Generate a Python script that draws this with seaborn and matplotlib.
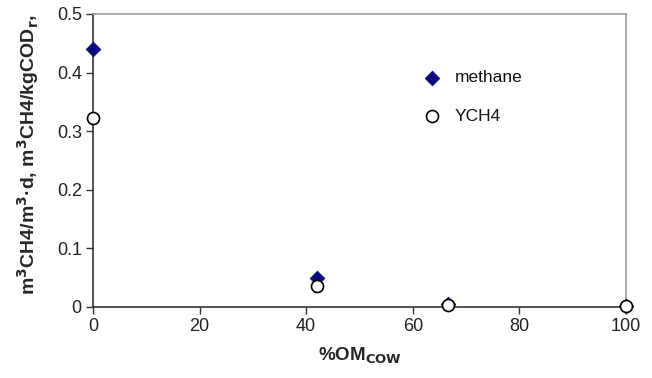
import matplotlib
matplotlib.use("Agg")
import matplotlib.pyplot as plt
import seaborn as sns
import pandas as pd

om_cow = [0, 42, 66.7, 100]
methane = [0.44, 0.05, 0.005, 0.002]
ych4 = [0.322, 0.036, 0.004, 0.001]
x_ticks = [0, 20, 40, 60, 80, 100]
y_ticks = [0, 0.1, 0.2, 0.3, 0.4, 0.5]
y_tick_labels = ["0", "0.1", "0.2", "0.3", "0.4", "0.5"]

sns.set_theme(style="white")
plt.rcParams['font.family'] = ['Liberation Sans', 'DejaVu Sans']

df = pd.DataFrame({
    "x": om_cow * 2,
    "y": methane + ych4,
    "series": ["methane"] * len(om_cow) + ["YCH4"] * len(om_cow),
})

fig = plt.figure(figsize=(6.52, 3.78), dpi=100)
ax = fig.add_axes([0.1426, 0.188, 0.8175, 0.775])

sns.scatterplot(data=df[df.series == "methane"], x="x", y="y", ax=ax,
                marker="D", s=55, color="#0a0a80", edgecolor="#0a0a80",
                label="methane", zorder=3, clip_on=False)
sns.scatterplot(data=df[df.series == "YCH4"], x="x", y="y", ax=ax,
                marker="o", s=75, facecolor="white", edgecolor="black",
                linewidth=1.2, label="YCH4", zorder=4, clip_on=False)

ax.set_xlim(0, 100)
ax.set_ylim(0, 0.5)
ax.set_xticks(x_ticks)
ax.set_yticks(y_ticks)
ax.set_yticklabels(y_tick_labels)
ax.tick_params(axis="both", direction="out", length=5, width=1, color="#333333",
               labelsize=13, labelcolor="#222222", pad=3, bottom=True, left=True)
for side in ["left", "bottom"]:
    ax.spines[side].set_color("#333333")
    ax.spines[side].set_linewidth(1.2)
for side in ["top", "right"]:
    ax.spines[side].set_visible(True)
    ax.spines[side].set_color("#999999")
    ax.spines[side].set_linewidth(1.2)

ax.set_xlabel(r"%OM$_{\mathbf{COW}}$", fontsize=13.5, fontweight="bold", labelpad=8)
ax.set_ylabel(r"m$^{\mathbf{3}}$CH4/m$^{\mathbf{3}}$·d, m$^{\mathbf{3}}$CH4/kgCOD$_{\mathbf{r}}$,",
              fontsize=14, fontweight="bold", labelpad=6)
ax.yaxis.set_label_coords(-0.098, 0.52)

leg = ax.legend(loc="upper left", bbox_to_anchor=(0.59, 0.832), frameon=False,
                fontsize=12.5, handletextpad=0.3, labelspacing=1.35, borderaxespad=0)
for t in leg.get_texts():
    t.set_color("#111111")

fig.savefig("out.png", dpi=100)
